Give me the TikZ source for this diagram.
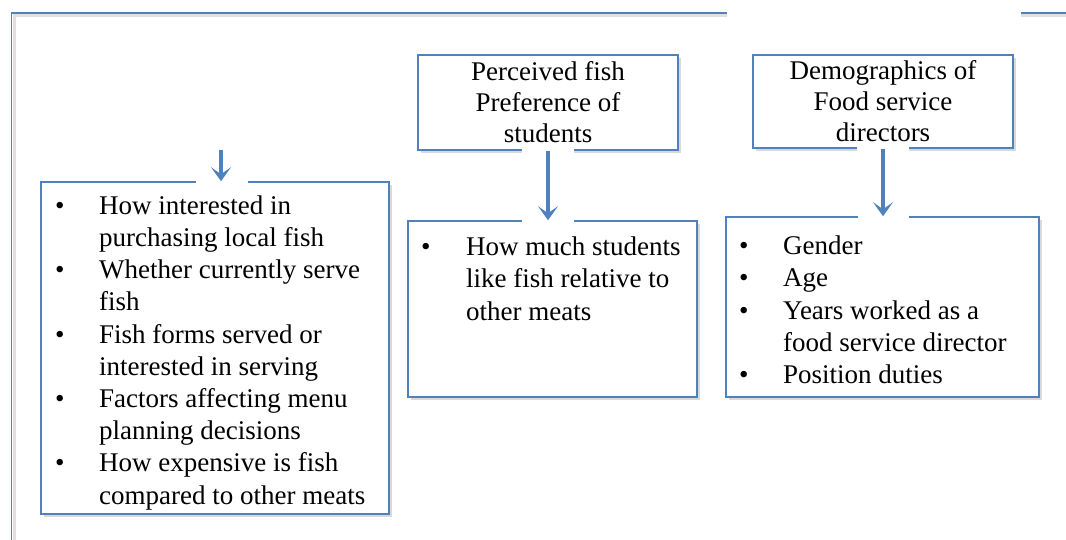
\documentclass[tikz,border=0pt]{standalone}
\usepackage{fontspec}
\setmainfont{LiberationSerif}[Extension=.ttf, UprightFont=*-Regular, BoldFont=*-Bold]
\usetikzlibrary{positioning}
\usetikzlibrary{arrows.meta}
\usetikzlibrary{shadows}
\definecolor{frameblue}{HTML}{4F81BD}
\tikzset{box/.style={draw=frameblue, line width=1.6pt, fill=white, inner sep=0pt,
    drop shadow={shadow xshift=3pt, shadow yshift=-3pt, opacity=0.15, fill=black}}}
\tikzset{head/.style={box, align=center, font=\rmfamily\fontsize{27}{31}\selectfont}}
\tikzset{items/.style={anchor=north west, inner sep=0pt, align=left, font=\rmfamily\fontsize{27}{32.2}\selectfont}}
\tikzset{gap/.style={fill=white, draw=none}}
\tikzset{flow/.style={-{Stealth[length=14pt,width=20pt,inset=7pt]}, frameblue, line width=4pt}}

\begin{document}
\begin{tikzpicture}[x=1pt, y=-1pt]
    \useasboundingbox (0,0) rectangle (1066,540);

    % outer frame
    \draw[black!12, line width=3pt] (14.5,540) -- (14.5,16) -- (727,16);
    \draw[black!12, line width=3pt] (1021,16) -- (1066,16);
    \draw[frameblue, line width=1.6pt] (11.5,540) -- (11.5,13) -- (727,13);
    \draw[frameblue, line width=1.6pt] (1021,13) -- (1066,13);

    % headings
    \node[head, minimum width=260pt, minimum height=95pt] (pref) at (548,102.5)
        {Perceived fish\\Preference of\\students};
    \node[head, minimum width=260pt, minimum height=93pt] (demo) at (883,101.5)
        {Demographics of\\Food service\\directors};

    % lists
    \node[box, minimum width=348pt, minimum height=332pt] (listL) at (215,348) {};
    \node[box, minimum width=289pt, minimum height=176pt] (listM) at (552.5,309) {};
    \node[box, minimum width=313pt, minimum height=180pt] (listR) at (882.5,307) {};

    \node[items] (txtL) at (55,191.5) {\begin{tabular}{@{}p{44pt}@{}l@{}}
        \textbullet & How interested in\\
                    & purchasing local fish\\
        \textbullet & Whether currently serve\\
                    & fish\\
        \textbullet & Fish forms served or\\
                    & interested in serving\\
        \textbullet & Factors affecting menu\\
                    & planning decisions\\
        \textbullet & How expensive is fish\\
                    & compared to other meats
    \end{tabular}};
    \node[items] (txtM) at (421,233) {\begin{tabular}{@{}p{45pt}@{}l@{}}
        \textbullet & How much students\\
                    & like fish relative to\\
                    & other meats
    \end{tabular}};
    \node[items] (txtR) at (739,232) {\begin{tabular}{@{}p{44pt}@{}l@{}}
        \textbullet & Gender\\
        \textbullet & Age\\
        \textbullet & Years worked as a\\
                    & food service director\\
        \textbullet & Position duties
    \end{tabular}};

    % breaks in the borders round the arrows
    \fill[gap] (522,146) rectangle (574,156);
    \fill[gap] (857,144) rectangle (909,154);
    \fill[gap] (196,178) rectangle (248,186);
    \fill[gap] (522,217) rectangle (574,225);
    \fill[gap] (858,213) rectangle (909,221);

    % arrows
    \coordinate (src) at (221,150);
    \draw[flow] (src) -- (src |- listL.north);
    \draw[flow] (pref.south) -- (pref.south |- listM.north);
    \draw[flow] (demo.south) -- (demo.south |- listR.north);
\end{tikzpicture}
\end{document}
